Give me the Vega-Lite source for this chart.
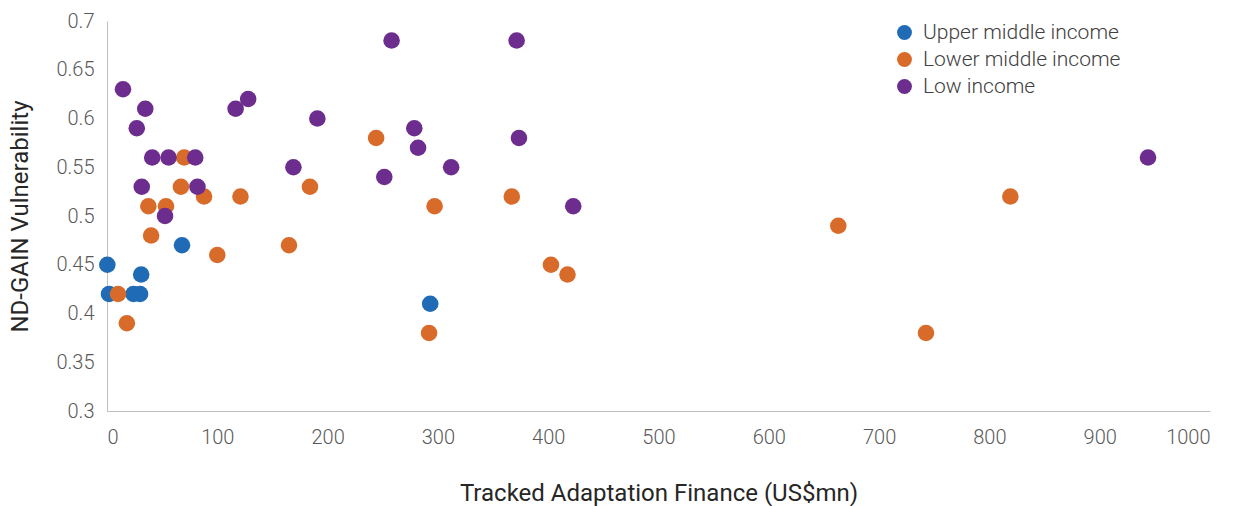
{
  "$schema": "https://vega.github.io/schema/vega-lite/v6.json",
  "width": 1103,
  "height": 390,
  "autosize": "none",
  "padding": {"left": 107, "top": 21, "right": 24, "bottom": 95},
  "background": "white",
  "config": {
    "view": {"stroke": null},
    "font": "Roboto"
  },
  "data": {
    "values": [
      {"finance": 0.3, "vuln": 0.45, "group": "Upper middle income"},
      {"finance": 1.8, "vuln": 0.42, "group": "Upper middle income"},
      {"finance": 24, "vuln": 0.42, "group": "Upper middle income"},
      {"finance": 30, "vuln": 0.42, "group": "Upper middle income"},
      {"finance": 31, "vuln": 0.44, "group": "Upper middle income"},
      {"finance": 68, "vuln": 0.47, "group": "Upper middle income"},
      {"finance": 293, "vuln": 0.41, "group": "Upper middle income"},
      {"finance": 10, "vuln": 0.42, "group": "Lower middle income"},
      {"finance": 18, "vuln": 0.39, "group": "Lower middle income"},
      {"finance": 37.5, "vuln": 0.51, "group": "Lower middle income"},
      {"finance": 40, "vuln": 0.48, "group": "Lower middle income"},
      {"finance": 53.5, "vuln": 0.51, "group": "Lower middle income"},
      {"finance": 67, "vuln": 0.53, "group": "Lower middle income"},
      {"finance": 70, "vuln": 0.56, "group": "Lower middle income"},
      {"finance": 88, "vuln": 0.52, "group": "Lower middle income"},
      {"finance": 100, "vuln": 0.46, "group": "Lower middle income"},
      {"finance": 121, "vuln": 0.52, "group": "Lower middle income"},
      {"finance": 165, "vuln": 0.47, "group": "Lower middle income"},
      {"finance": 184, "vuln": 0.53, "group": "Lower middle income"},
      {"finance": 244, "vuln": 0.58, "group": "Lower middle income"},
      {"finance": 292, "vuln": 0.38, "group": "Lower middle income"},
      {"finance": 297, "vuln": 0.51, "group": "Lower middle income"},
      {"finance": 367, "vuln": 0.52, "group": "Lower middle income"},
      {"finance": 402.5, "vuln": 0.45, "group": "Lower middle income"},
      {"finance": 417.5, "vuln": 0.44, "group": "Lower middle income"},
      {"finance": 663, "vuln": 0.49, "group": "Lower middle income"},
      {"finance": 742.5, "vuln": 0.38, "group": "Lower middle income"},
      {"finance": 819, "vuln": 0.52, "group": "Lower middle income"},
      {"finance": 14.5, "vuln": 0.63, "group": "Low income"},
      {"finance": 27, "vuln": 0.59, "group": "Low income"},
      {"finance": 31.5, "vuln": 0.53, "group": "Low income"},
      {"finance": 34.7, "vuln": 0.61, "group": "Low income"},
      {"finance": 41, "vuln": 0.56, "group": "Low income"},
      {"finance": 52.6, "vuln": 0.5, "group": "Low income"},
      {"finance": 55.8, "vuln": 0.56, "group": "Low income"},
      {"finance": 80, "vuln": 0.56, "group": "Low income"},
      {"finance": 82, "vuln": 0.53, "group": "Low income"},
      {"finance": 116.6, "vuln": 0.61, "group": "Low income"},
      {"finance": 128, "vuln": 0.62, "group": "Low income"},
      {"finance": 169, "vuln": 0.55, "group": "Low income"},
      {"finance": 190.7, "vuln": 0.6, "group": "Low income"},
      {"finance": 251.4, "vuln": 0.54, "group": "Low income"},
      {"finance": 258, "vuln": 0.68, "group": "Low income"},
      {"finance": 278.6, "vuln": 0.59, "group": "Low income"},
      {"finance": 282, "vuln": 0.57, "group": "Low income"},
      {"finance": 312, "vuln": 0.55, "group": "Low income"},
      {"finance": 371.4, "vuln": 0.68, "group": "Low income"},
      {"finance": 373.5, "vuln": 0.58, "group": "Low income"},
      {"finance": 422.7, "vuln": 0.51, "group": "Low income"},
      {"finance": 943.8, "vuln": 0.56, "group": "Low income"}
    ]
  },
  "mark": {"type": "circle", "size": 275, "opacity": 1},
  "encoding": {
    "x": {
      "field": "finance",
      "type": "quantitative",
      "scale": {"domain": [0, 1000], "nice": false, "zero": false},
      "axis": {
        "title": "Tracked Adaptation Finance (US$mn)",
        "values": [0, 100, 200, 300, 400, 500, 600, 700, 800, 900, 1000],
        "format": "d",
        "grid": false,
        "ticks": false,
        "domainColor": "#bfbfbf",
        "labelFontSize": 20,
        "labelFontWeight": 300,
        "labelColor": "#595959",
        "labelPadding": 16,
        "titleFontSize": 24,
        "titleFontWeight": 400,
        "titleColor": "#262626",
        "titlePadding": 34
      }
    },
    "y": {
      "field": "vuln",
      "type": "quantitative",
      "scale": {"domain": [0.3, 0.7], "nice": false, "zero": false},
      "axis": {
        "title": "ND-GAIN Vulnerability",
        "values": [0.3, 0.35, 0.4, 0.45, 0.5, 0.55, 0.6, 0.65, 0.7],
        "format": ".2~f",
        "grid": false,
        "ticks": false,
        "domainColor": "#bfbfbf",
        "labelFontSize": 20,
        "labelFontWeight": 300,
        "labelColor": "#595959",
        "labelPadding": 13,
        "titleFontSize": 24,
        "titleFontWeight": 400,
        "titleColor": "#262626",
        "titlePadding": 23
      }
    },
    "color": {
      "field": "group",
      "type": "nominal",
      "sort": null,
      "scale": {
        "domain": ["Upper middle income", "Lower middle income", "Low income"],
        "range": ["#1f6bb5", "#d86b29", "#6c2d8e"]
      },
      "legend": {
        "title": null,
        "orient": "none",
        "legendX": 787,
        "legendY": 1,
        "symbolType": "circle",
        "symbolSize": 220,
        "labelFontSize": 21,
        "labelFontWeight": 300,
        "labelColor": "#404040",
        "labelLimit": 400,
        "rowPadding": 5,
        "labelOffset": 8
      }
    }
  }
}
